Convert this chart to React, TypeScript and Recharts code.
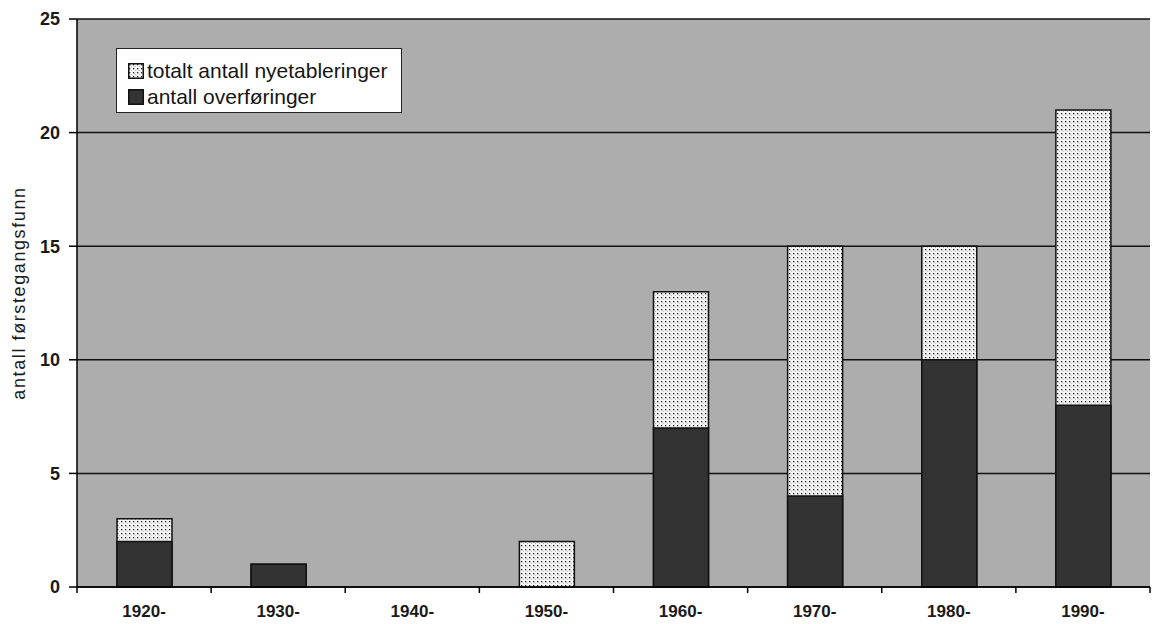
import React from "react";
import { BarChart, Bar, XAxis, YAxis, CartesianGrid } from "recharts";

const decades = ["1920-", "1930-", "1940-", "1950-", "1960-", "1970-", "1980-", "1990-"];
const totalNew = [3, 1, 0, 2, 13, 15, 15, 21];
const transfers = [2, 1, 0, 0, 7, 4, 10, 8];
const yTicks = [0, 5, 10, 15, 20, 25];

const data = decades.map((d, i) => ({ decade: d, total: totalNew[i], transfers: transfers[i] }));

const FONT = "Liberation Sans, Arial, sans-serif";

const XTick = (props: any) => {
  const { x, y, payload, index } = props;
  const off = payload.offset || 0;
  const last = index === decades.length - 1;
  return (
    <g>
      <line x1={x - off} x2={x - off} y1={y - 8} y2={y - 2} stroke="#000" strokeWidth={1.5} />
      {last && <line x1={x + off} x2={x + off} y1={y - 8} y2={y - 2} stroke="#000" strokeWidth={1.5} />}
      <text x={x} y={y + 22} textAnchor="middle" fontSize={17} fontWeight="bold" fill="#1a1a1a" fontFamily={FONT}>
        {payload.value}
      </text>
    </g>
  );
};

const YLabel = (props: any) => {
  const vb = props.viewBox || {};
  const cx = 19;
  const cy = (vb.y || 0) + (vb.height || 0) / 2 - 10;
  return (
    <text
      x={cx}
      y={cy}
      transform={`rotate(-90, ${cx}, ${cy})`}
      textAnchor="middle"
      dominantBaseline="central"
      fontSize={18}
      letterSpacing={1.6}
      fill="#1a1a1a"
      stroke="none"
      style={{ fill: "#1a1a1a", fontFamily: FONT }}
    >
      antall førstegangsfunn
    </text>
  );
};

const LegendBox = () => (
  <div
    style={{
      position: "absolute",
      left: 116,
      top: 48,
      background: "#fff",
      border: "1.5px solid #222",
      width: 286,
      height: 65,
      boxSizing: "border-box",
      padding: "9px 0 0 11px",
      fontFamily: FONT,
      fontSize: 21,
      color: "#151515",
      lineHeight: "26px",
    }}
  >
    <div style={{ display: "flex", alignItems: "center", height: 26 }}>
      <svg width={16} height={16} style={{ marginRight: 3 }}>
        <rect x={0.75} y={0.75} width={14.5} height={14.5} fill="url(#dots)" stroke="#111" strokeWidth={1.5} />
      </svg>
      totalt antall nyetableringer
    </div>
    <div style={{ display: "flex", alignItems: "center", height: 26 }}>
      <svg width={16} height={16} style={{ marginRight: 3 }}>
        <rect x={0.75} y={0.75} width={14.5} height={14.5} fill="#333" stroke="#111" strokeWidth={1.5} />
      </svg>
      antall overføringer
    </div>
  </div>
);

export default function App() {
  return (
    <div style={{ position: "absolute", left: 0, top: 0, width: 1154, height: 624, background: "#fff" }}>
      <svg width={0} height={0} style={{ position: "absolute" }}>
        <defs>
          <pattern id="dots" width={4} height={4} patternUnits="userSpaceOnUse">
            <rect width={4} height={4} fill="#f4f4f4" />
            <rect x={1} y={1} width={1.3} height={1.3} fill="#222" />
            <rect x={3} y={3} width={1} height={1} fill="#bbb" />
          </pattern>
        </defs>
      </svg>
      <BarChart
        width={1154}
        height={624}
        data={data}
        margin={{ top: 19, right: 4, bottom: 7, left: 0 }}
        barGap={-55}
        barCategoryGap={0}
      >
        <CartesianGrid vertical={false} stroke="#111" strokeWidth={1.5} fill="#adadad" strokeOpacity={1} />
        <XAxis
          dataKey="decade"
          tickLine={false}
          axisLine={{ stroke: "#000", strokeWidth: 1.5 }}
          tick={<XTick />}
          height={30}
          interval={0}
        />
        <YAxis
          width={77}
          domain={[0, 25]}
          ticks={yTicks}
          tickLine={{ stroke: "#000", strokeWidth: 1.5 }}
          tickSize={8}
          tickMargin={9}
          axisLine={{ stroke: "#000", strokeWidth: 1.5 }}
          tick={{ fontSize: 18, fontWeight: "bold", fill: "#1a1a1a", fontFamily: FONT }}
          label={<YLabel />}
        />
        <Bar dataKey="total" barSize={55} fill="url(#dots)" stroke="#111" strokeWidth={1.5} isAnimationActive={false} />
        <Bar dataKey="transfers" barSize={55} fill="#333" stroke="#111" strokeWidth={1.5} isAnimationActive={false} />
      </BarChart>
      <LegendBox />
    </div>
  );
}
